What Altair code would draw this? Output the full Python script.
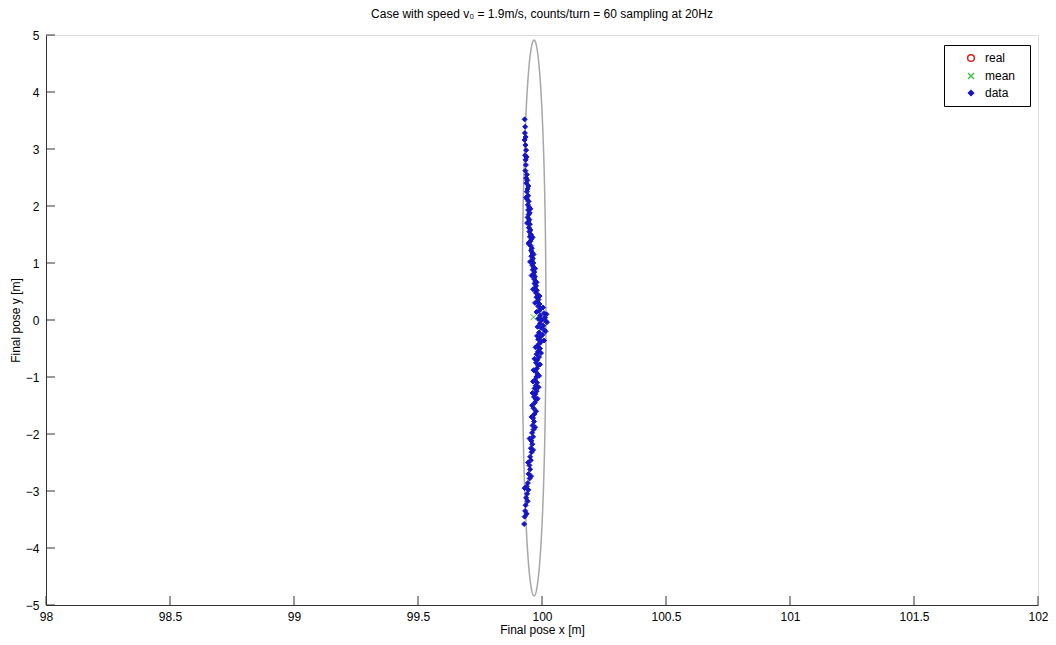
import altair as alt
import numpy as np
import pandas as pd

# ---- data ----
data_y = [3.52, 3.39, 3.28, 3.21, 3.16, 3.07, 2.98, 2.89, 2.86, 2.81, 2.72, 2.62, 2.55, 2.49,
          2.45, 2.40, 2.30, 2.25, 2.18, 2.12, 2.08, 2.02, 1.98, 1.93, 1.88, 1.85, 1.80, 1.76,
          1.72, 1.68, 1.62, 1.58, 1.55, 1.50, 1.46, 1.42, 1.38, 1.33, 1.30, 1.26, 1.22, 1.18,
          1.12, 1.08, 1.04, 1.00, 0.96, 0.92, 0.88, 0.84, 0.80, 0.76, 0.72, 0.68, 0.64, 0.60,
          0.56, 0.52, 0.48, 0.44, 0.40, 0.36, 0.32, 0.28, 0.24, 0.20, 0.16, 0.12, 0.08, 0.04,
          0.00, -0.02, -0.06, -0.10, -0.14, -0.18, -0.22, -0.26, -0.30, -0.34, -0.38, -0.42,
          -0.46, -0.50, -0.55, -0.60, -0.65, -0.70, -0.75, -0.80, -0.85, -0.90, -0.95, -1.00,
          -1.05, -1.10, -1.15, -1.20, -1.25, -1.30, -1.35, -1.40, -1.45, -1.55, -1.65, -1.72,
          -1.78, -1.85, -1.92, -1.98, -2.05, -2.12, -2.18, -2.25, -2.32, -2.40, -2.46, -2.55,
          -2.62, -2.70, -2.78, -2.86, -2.92, -2.98, -3.05, -3.12, -3.25, -3.35, -3.45, -3.58,
          2.35, 2.15, 1.95, 1.70, 1.45, 1.35, 1.15, 1.02, 0.90, 0.78, 0.66, 0.54, 0.42, 0.30,
          0.22, 0.14, 0.10, 0.02, -0.04, -0.12, -0.20, -0.28, -0.36, -0.48, -0.58, -0.68,
          -0.78, -0.88, -0.98, -1.08, -1.18, -1.28, -1.38, -1.50, -1.60, -1.70, -1.88, -2.08,
          -2.28, -2.50, -2.74, -2.95, -3.18, -3.40]
data_x = [99.930, 99.932, 99.931, 99.934, 99.930, 99.933, 99.936, 99.932, 99.938, 99.934, 99.935, 99.933, 99.939, 99.936,
          99.941, 99.937, 99.942, 99.939, 99.944, 99.940, 99.946, 99.943, 99.948, 99.944, 99.950, 99.946, 99.942, 99.949,
          99.945, 99.951, 99.947, 99.953, 99.949, 99.955, 99.951, 99.957, 99.953, 99.948, 99.955, 99.959, 99.956, 99.961,
          99.957, 99.963, 99.959, 99.965, 99.961, 99.967, 99.963, 99.969, 99.966, 99.971, 99.968, 99.974, 99.970, 99.976,
          99.972, 99.979, 99.975, 99.983, 99.978, 99.986, 99.981, 99.990, 99.985, 99.995, 99.988, 100.008, 99.993, 100.012,
          99.998, 100.016, 99.992, 100.005, 99.996, 100.010, 99.988, 100.002, 99.993, 99.985, 99.997, 99.988,
          99.980, 99.992, 99.984, 99.978, 99.988, 99.981, 99.976, 99.985, 99.979, 99.974, 99.982, 99.977,
          99.972, 99.980, 99.975, 99.970, 99.978, 99.973, 99.968, 99.976, 99.971, 99.966, 99.970, 99.964,
          99.968, 99.962, 99.966, 99.960, 99.964, 99.957, 99.961, 99.955, 99.958, 99.952, 99.955, 99.949,
          99.952, 99.946, 99.950, 99.943, 99.938, 99.945, 99.940, 99.936, 99.934, 99.932, 99.930, 99.928,
          99.945, 99.936, 99.953, 99.940, 99.962, 99.946, 99.966, 99.952, 99.972, 99.958, 99.978, 99.964, 99.990, 99.972,
          100.004, 99.978, 100.018, 99.984, 100.020, 99.982, 100.014, 99.980, 100.008, 99.974, 99.996, 99.970,
          99.992, 99.966, 99.988, 99.964, 99.986, 99.962, 99.982, 99.960, 99.976, 99.958, 99.972, 99.950,
          99.964, 99.944, 99.956, 99.930, 99.942, 99.938]
real_x, real_y = [100.0], [0.0]
mean_x, mean_y = [99.966], [0.05]
# uncertainty ellipse (centre and semi-axes)
ell_cx, ell_cy, ell_ax, ell_ay = 99.968, 0.035, 0.048, 4.875
x_ticks = [98, 98.5, 99, 99.5, 100, 100.5, 101, 101.5, 102]
y_ticks = [-5, -4, -3, -2, -1, 0, 1, 2, 3, 4, 5]
series = ["real", "mean", "data"]

FONT = "Liberation Sans"

t = np.linspace(0, 2 * np.pi, 361)
ell_df = pd.DataFrame({"x": ell_cx + ell_ax * np.cos(t),
                       "y": ell_cy + ell_ay * np.sin(t),
                       "o": np.arange(len(t))})

pts_df = pd.concat([
    pd.DataFrame({"x": real_x, "y": real_y, "s": "real"}),
    pd.DataFrame({"x": data_x, "y": data_y, "s": "data"}),
    pd.DataFrame({"x": mean_x, "y": mean_y, "s": "mean"}),
], ignore_index=True)

xt_df = pd.DataFrame({"x": x_ticks, "y": [y_ticks[0]] * len(x_ticks)})
yt_df = pd.DataFrame({"x": [x_ticks[0]] * len(y_ticks), "y": y_ticks})

xs = alt.Scale(domain=[98, 102], nice=False, zero=False)
ys = alt.Scale(domain=[-5, 5], nice=False, zero=False)

xaxis = alt.Axis(title="Final pose x [m]", values=x_ticks, tickSize=0, labelPadding=6,
                 grid=False, domainColor="#333333", labelFontSize=12, titleFontSize=12,
                 labelFont=FONT, titleFont=FONT, titleFontWeight="normal", labelColor="black",
                 titleColor="black", titlePadding=2, labelFlush=False, format="~g")
yaxis = alt.Axis(title="Final pose y [m]", values=y_ticks, tickSize=0, labelPadding=7,
                 grid=False, domainColor="#333333", labelFontSize=12, titleFontSize=12,
                 labelFont=FONT, titleFont=FONT, titleFontWeight="normal", labelColor="black",
                 titleColor="black", labelFlush=False, format="~g",
                 titleX=-31, titleY=285, titleBaseline="middle", titleAlign="center", titleAngle=270)

X = alt.X("x:Q", scale=xs, axis=xaxis)
Y = alt.Y("y:Q", scale=ys, axis=yaxis)

ellipse = alt.Chart(ell_df).mark_line(color="#a8a8a8", strokeWidth=1.5).encode(
    x=X, y=Y, order="o:Q")

xticks_layer = alt.Chart(xt_df).mark_tick(orient="vertical", size=9, thickness=1,
                                          color="#333333", yOffset=-4.5, opacity=1).encode(x=X, y=Y)
yticks_layer = alt.Chart(yt_df).mark_tick(orient="horizontal", size=9, thickness=1,
                                          color="#333333", xOffset=4.5, opacity=1).encode(x=X, y=Y)

# invisible spacer title widens the legend box to match the reference
legend = alt.Legend(title="M", titleOrient="right", titlePadding=1, titleFontSize=8,
                    titleOpacity=0,
                    orient="none", legendX=898, legendY=10,
                    strokeColor="black", fillColor="white", padding=7,
                    labelFont=FONT, labelFontSize=12, labelColor="black",
                    titleFont=FONT,
                    symbolOffset=14, labelOffset=8, rowPadding=5)

points = alt.Chart(pts_df).mark_point(strokeWidth=1, opacity=1).encode(
    x=X, y=Y,
    shape=alt.Shape("s:N", scale=alt.Scale(domain=series,
                    range=["circle", "M-1,-1L1,1M-1,1L1,-1", "diamond"]), legend=legend),
    stroke=alt.Stroke("s:N", scale=alt.Scale(domain=series,
                      range=["#d42020", "#40c040", "#1515c8"]), legend=legend),
    fill=alt.Fill("s:N", scale=alt.Scale(domain=series,
                  range=["transparent", "transparent", "#1515c8"]), legend=legend),
    size=alt.Size("s:N", scale=alt.Scale(domain=series, range=[45, 25, 20]), legend=legend),
)

chart = alt.layer(ellipse, xticks_layer, yticks_layer, points).properties(
    width=992, height=570,
    autosize=alt.AutoSizeParams(type="none"),
    padding={"left": 38, "top": 27, "right": 10, "bottom": 32},
    title=alt.TitleParams("Case with speed v\u2080 = 1.9m/s, counts/turn = 60 sampling at 20Hz",
                          font=FONT, fontSize=12, fontWeight="normal", color="black",
                          offset=4, dy=-4),
).configure_view(strokeWidth=0).configure(background="white")

chart.save("out.html", embed_options={"renderer": "svg", "actions": False})
